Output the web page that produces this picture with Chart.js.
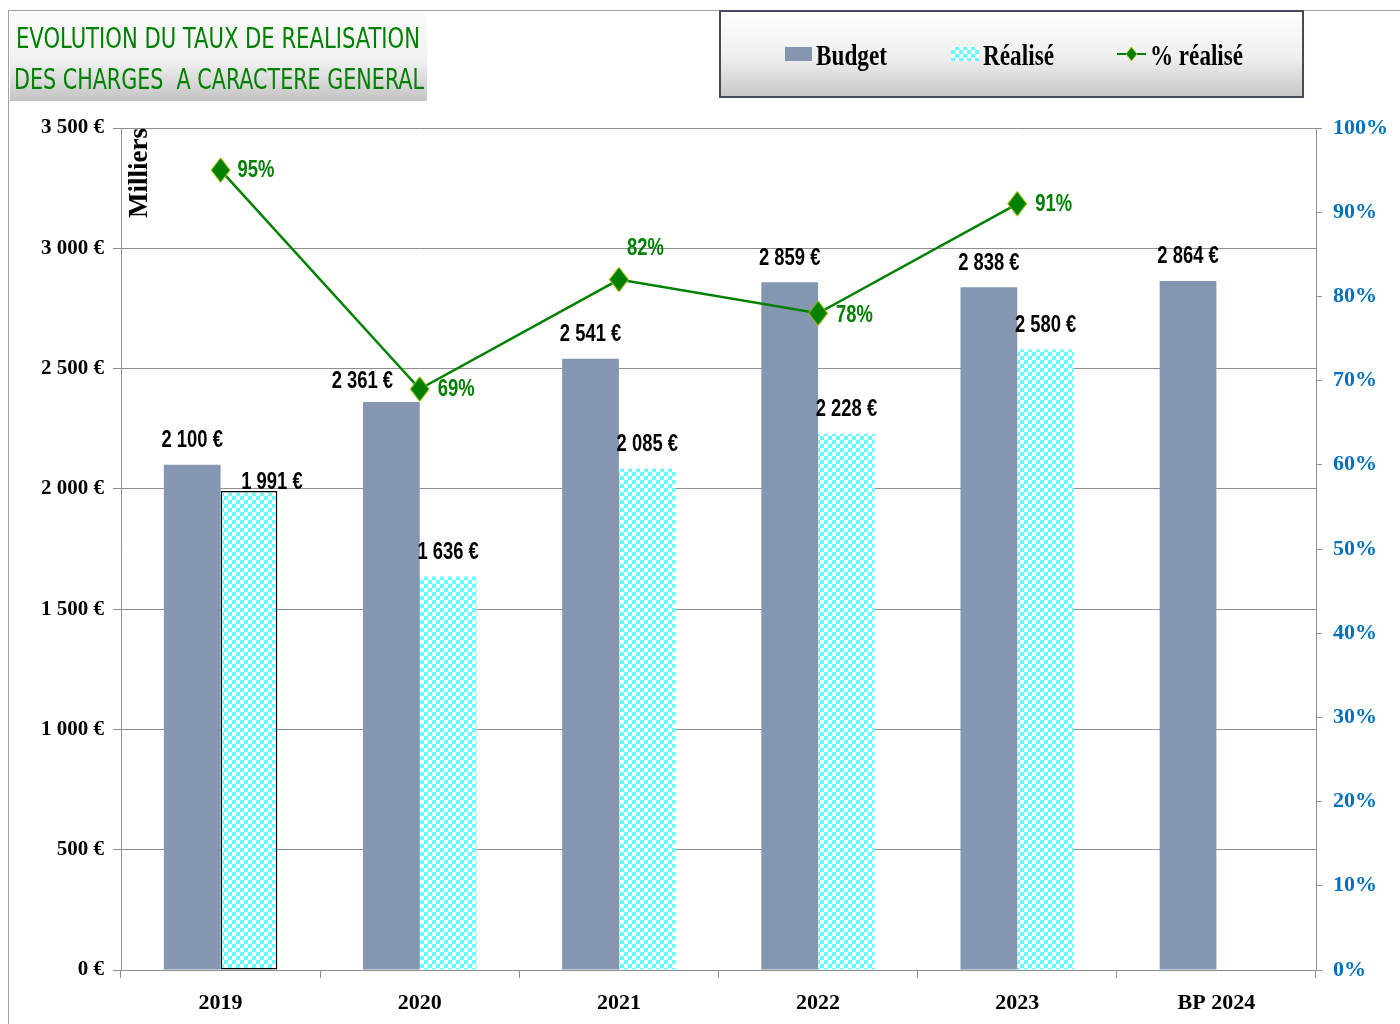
<!DOCTYPE html>
<html>
<head>
<meta charset="utf-8">
<script src="https://cdn.jsdelivr.net/npm/chart.js@4.4.1/dist/chart.umd.min.js"></script>
<style>
  body { margin: 0; width: 1400px; height: 1024px; overflow: hidden; position: relative; background: #fff; }
  #frame { position: absolute; left: 8px; top: 10px; width: 1400px; height: 1100px; border-left: 1px solid #a0a0a0; border-top: 1px solid #a0a0a0; }
  #chart { position: absolute; left: 0; top: 0; }
  #title { position: absolute; left: 10px; top: 12px; width: 417px; height: 89px; background: linear-gradient(#fbfbfb, #f1f1f1 55%, #c3c3c3); }
  #legend { position: absolute; left: 719px; top: 10px; width: 581px; height: 84px; border: 2px solid #464b5a; background: linear-gradient(#fefefe, #efefef 55%, #c8c8c8); }
  svg { position: absolute; overflow: visible; }
</style>
</head>
<body>
<div id="frame"></div>
<canvas id="chart" width="1400" height="1024"></canvas>

<div id="title">
  <svg width="417" height="89" style="left:0;top:0">
    <text x="6" y="36" textLength="404" lengthAdjust="spacingAndGlyphs" fill="#008000"
          font-family="'Liberation Sans Narrow', 'DejaVu Sans Condensed', sans-serif" font-size="28">EVOLUTION DU TAUX DE REALISATION</text>
    <text x="4" y="77" textLength="410" lengthAdjust="spacingAndGlyphs" fill="#008000" style="white-space:pre"
          font-family="'Liberation Sans Narrow', 'DejaVu Sans Condensed', sans-serif" font-size="28">DES CHARGES  A CARACTERE GENERAL</text>
  </svg>
</div>

<div id="legend">
  <svg width="585" height="88" style="left:-2px;top:-2px">
    <defs>
      <pattern id="chk" width="8" height="8" patternUnits="userSpaceOnUse">
        <rect width="8" height="8" fill="#ffffff"/>
        <rect width="4" height="4" fill="#66ffff"/>
        <rect x="4" y="4" width="4" height="4" fill="#66ffff"/>
      </pattern>
    </defs>
    <rect x="66" y="37" width="27" height="14" fill="#8496b0"/>
    <text x="97" y="55" textLength="71" lengthAdjust="spacingAndGlyphs" font-family="'Liberation Serif', serif" font-weight="bold" font-size="29">Budget</text>
    <rect x="232" y="37" width="28" height="14" fill="url(#chk)"/>
    <text x="264" y="55" textLength="71" lengthAdjust="spacingAndGlyphs" font-family="'Liberation Serif', serif" font-weight="bold" font-size="29">Réalisé</text>
    <line x1="398" y1="44" x2="427" y2="44" stroke="#008000" stroke-width="2"/>
    <polygon points="412.5,37 418,44 412.5,51 407,44" fill="#008000" stroke="#c8c800" stroke-width="0.8"/>
    <text x="431" y="55" textLength="93" lengthAdjust="spacingAndGlyphs" font-family="'Liberation Serif', serif" font-weight="bold" font-size="29">% réalisé</text>
  </svg>
</div>

<script>
// values in thousands of euros
const years = ['2019', '2020', '2021', '2022', '2023', 'BP 2024'];
const budget = [2100, 2361, 2541, 2859, 2838, 2864];
const realise = [1991, 1636, 2085, 2228, 2580, null];
const pctRealise = [95, 69, 82, 78, 91, null];

// label placement tweaks (style only)
const budgetLabelDx = [0, -29, 0, 0, 0, 0];
const budgetLabelDy = [-24, -20, -24, -24, -24, -24];
const realiseLabelDx = [23, 0, 0, 0, 0, 0];
const realiseLabelDy = [-8, -24, -24, -24, -24, -24];
const pctLabelDx = [17, 18, 8, 18, 18, 0];
const pctLabelDy = [1, 1, -31, 2, 1, 0];

const gridGrey = '#8f8f8f';
const serifBold = (size) => ({ family: "'Liberation Serif', 'Times New Roman', serif", size: size, weight: 'bold' });
const labelFont = "bold 23px 'Liberation Sans', Arial, sans-serif";
const labelSqueeze = 0.8;

function euro(v) {
    return String(v).replace(/\B(?=(\d{3})+(?!\d))/g, ' ') + ' €';
}

const canvas = document.getElementById('chart');
const ctx = canvas.getContext('2d');

// checkerboard fill for "Réalisé"
const tile = document.createElement('canvas');
tile.width = 8;
tile.height = 8;
const tg = tile.getContext('2d');
tg.fillStyle = '#ffffff';
tg.fillRect(0, 0, 8, 8);
tg.fillStyle = '#66ffff';
tg.fillRect(0, 0, 4, 4);
tg.fillRect(4, 4, 4, 4);
const checker = ctx.createPattern(tile, 'repeat');

// tall diamond marker
function diamond(w, h) {
    const c = document.createElement('canvas');
    c.width = w + 2;
    c.height = h + 2;
    const g = c.getContext('2d');
    g.beginPath();
    g.moveTo(w / 2 + 1, 1);
    g.lineTo(w + 1, h / 2 + 1);
    g.lineTo(w / 2 + 1, h + 1);
    g.lineTo(1, h / 2 + 1);
    g.closePath();
    g.fillStyle = '#008000';
    g.fill();
    g.strokeStyle = '#c8c800';
    g.lineWidth = 1;
    g.stroke();
    return c;
}
const marker = diamond(19, 25);

// narrow text: draw squeezed horizontally
function squeezed(c, text, x, y, align) {
    c.save();
    c.translate(x, y);
    c.scale(labelSqueeze, 1);
    c.textAlign = align;
    c.fillText(text, 0, 0);
    c.restore();
}

const valueLabels = {
    id: 'valueLabels',
    afterDatasetsDraw(chart) {
        const c = chart.ctx;
        c.save();
        c.font = labelFont;
        c.textBaseline = 'middle';
        c.fillStyle = '#000';
        chart.getDatasetMeta(1).data.forEach((bar, i) => {
            if (budget[i] == null) return;
            squeezed(c, euro(budget[i]), bar.x + budgetLabelDx[i], bar.y + budgetLabelDy[i], 'center');
        });
        chart.getDatasetMeta(2).data.forEach((bar, i) => {
            if (realise[i] == null) return;
            squeezed(c, euro(realise[i]), bar.x + realiseLabelDx[i], bar.y + realiseLabelDy[i], 'center');
        });
        c.fillStyle = '#008000';
        chart.getDatasetMeta(0).data.forEach((pt, i) => {
            if (pctRealise[i] == null) return;
            squeezed(c, pctRealise[i] + '%', pt.x + pctLabelDx[i], pt.y + pctLabelDy[i], 'left');
        });
        c.restore();
    }
};

const unitLabel = {
    id: 'unitLabel',
    afterDraw(chart) {
        const c = chart.ctx;
        c.save();
        c.translate(chart.chartArea.left + 19, chart.chartArea.top);
        c.rotate(-Math.PI / 2);
        c.font = "bold 27px 'Liberation Serif', serif";
        c.textAlign = 'right';
        c.textBaseline = 'middle';
        c.fillStyle = '#000';
        c.fillText('Milliers', 0, 0);
        c.restore();
    }
};

new Chart(canvas, {
    type: 'bar',
    data: {
        labels: years,
        datasets: [
            {
                type: 'line',
                label: '% réalisé',
                data: pctRealise,
                yAxisID: 'y1',
                order: 0,
                borderColor: '#008000',
                borderWidth: 2.5,
                pointStyle: marker,
                pointBackgroundColor: '#008000',
                pointBorderColor: '#c8c800',
                fill: false,
                tension: 0
            },
            {
                label: 'Budget',
                data: budget,
                yAxisID: 'y',
                order: 1,
                backgroundColor: '#8496b0'
            },
            {
                label: 'Réalisé',
                data: realise,
                yAxisID: 'y',
                order: 2,
                backgroundColor: checker,
                borderColor: ['#000000', 'rgba(0,0,0,0)', 'rgba(0,0,0,0)', 'rgba(0,0,0,0)', 'rgba(0,0,0,0)', 'rgba(0,0,0,0)'],
                borderWidth: [1.5, 0, 0, 0, 0, 0],
                borderSkipped: false
            }
        ]
    },
    options: {
        responsive: false,
        animation: false,
        categoryPercentage: 0.57,
        barPercentage: 1,
        layout: { padding: { top: 128, left: 0, right: 0, bottom: 0 } },
        plugins: {
            legend: { display: false },
            tooltip: { enabled: false }
        },
        scales: {
            x: {
                grid: { offset: true, drawOnChartArea: false, tickLength: 8, color: gridGrey },
                border: { color: gridGrey },
                ticks: { color: '#000', font: serifBold(22), padding: 12 },
                afterFit: s => { s.height = 54; }
            },
            y: {
                position: 'left',
                min: 0,
                max: 3500,
                grid: { color: gridGrey, tickLength: 8 },
                border: { color: gridGrey },
                ticks: { stepSize: 500, color: '#000', font: serifBold(21), padding: 9, callback: v => euro(v) },
                afterFit: s => { s.width = 121; }
            },
            y1: {
                position: 'right',
                min: 0,
                max: 100,
                grid: { drawOnChartArea: false, color: gridGrey, tickLength: 6 },
                border: { color: gridGrey },
                ticks: { stepSize: 10, color: '#0070c0', font: serifBold(22), padding: 11, callback: v => v + '%' },
                afterFit: s => { s.width = 84; }
            }
        }
    },
    plugins: [valueLabels, unitLabel]
});
</script>
</body>
</html>
